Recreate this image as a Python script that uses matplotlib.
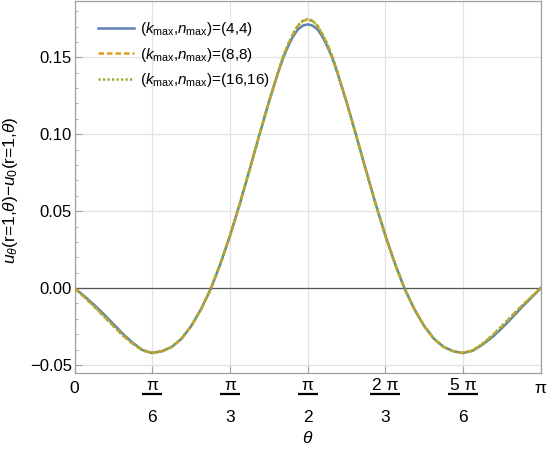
"""
u_theta(r=1, theta) - u_0(r=1, theta) para tres truncaciones (k_max, n_max).
"""
import numpy as np
import matplotlib.pyplot as plt

plt.rcParams['font.family'] = ['Liberation Sans', 'DejaVu Sans']
plt.rcParams['mathtext.fontset'] = 'custom'
plt.rcParams['mathtext.rm'] = 'Liberation Sans'
plt.rcParams['mathtext.it'] = 'Liberation Sans:italic'

# Datos (theta en grados, mas fino cerca del maximo)
theta_deg = [0, 3.75, 7.5, 11.25, 15, 18.75, 22.5, 26.25, 30, 33.75, 37.5,
             41.25, 45, 48.75, 52.5, 56.25, 60, 63.75, 67.5, 71.25, 75,
             78.75, 80.625, 82.5, 84.375, 86.25, 88.125, 90, 91.875, 93.75,
             95.625, 97.5, 99.375, 101.25,
             105, 108.75, 112.5, 116.25, 120, 123.75, 127.5, 131.25, 135,
             138.75, 142.5, 146.25, 150, 153.75, 157.5, 161.25, 165, 168.75,
             172.5, 176.25, 180]

u_4 = [0.0000, -0.0052, -0.0108, -0.0169, -0.0234, -0.0299, -0.0356, -0.0403,
       -0.0422, -0.0411, -0.0383, -0.0330, -0.0248, -0.0140, -0.0008, 0.0155,
       0.0340, 0.0545, 0.0765, 0.0990, 0.1208,
       0.1409, 0.1500, 0.1573, 0.1636, 0.1682, 0.1706, 0.1714, 0.1706, 0.1682,
       0.1636, 0.1573, 0.1500, 0.1409,
       0.1208, 0.0990, 0.0765, 0.0545, 0.0340, 0.0155, -0.0008, -0.0140,
       -0.0248, -0.0330, -0.0383, -0.0411, -0.0422, -0.0407, -0.0368, -0.0319,
       -0.0260, -0.0195, -0.0128, -0.0064, 0.0000]

u_8 = [0.0000, -0.0058, -0.0118, -0.0182, -0.0247, -0.0309, -0.0362, -0.0405,
       -0.0422, -0.0411, -0.0383, -0.0330, -0.0248, -0.0140, -0.0008, 0.0155,
       0.0340, 0.0545, 0.0765, 0.0990, 0.1210,
       0.1415, 0.1510, 0.1587, 0.1652, 0.1705, 0.1736, 0.1746, 0.1736, 0.1705,
       0.1652, 0.1587, 0.1510, 0.1415,
       0.1210, 0.0990, 0.0765, 0.0545, 0.0340, 0.0155, -0.0008, -0.0140,
       -0.0248, -0.0330, -0.0383, -0.0411, -0.0422, -0.0405, -0.0362, -0.0309,
       -0.0247, -0.0182, -0.0118, -0.0058, 0.0000]

u_16 = [0.0000, -0.0058, -0.0118, -0.0182, -0.0247, -0.0309, -0.0362, -0.0405,
        -0.0422, -0.0411, -0.0383, -0.0330, -0.0248, -0.0140, -0.0008, 0.0155,
        0.0340, 0.0545, 0.0765, 0.0990, 0.1210,
        0.1415, 0.1510, 0.1588, 0.1653, 0.1706, 0.1738, 0.1748, 0.1738, 0.1706,
        0.1653, 0.1588, 0.1510, 0.1415,
        0.1210, 0.0990, 0.0765, 0.0545, 0.0340, 0.0155, -0.0008, -0.0140,
        -0.0248, -0.0330, -0.0383, -0.0411, -0.0422, -0.0405, -0.0362, -0.0309,
        -0.0247, -0.0182, -0.0118, -0.0058, 0.0000]

etiquetas = [r'($k_{\mathrm{max}}$,$n_{\mathrm{max}}$)=(4,4)',
             r'($k_{\mathrm{max}}$,$n_{\mathrm{max}}$)=(8,8)',
             r'($k_{\mathrm{max}}$,$n_{\mathrm{max}}$)=(16,16)']
colores = ['#5E81B5', '#E19C24', '#8FB032']
estilos = ['-', (0, (2.2, 1.2)), (0, (0.9, 0.9))]

yticks = [-0.05, 0.0, 0.05, 0.10, 0.15]
ytick_labels = ['\u22120.05', '0.00', '0.05', '0.10', '0.15']
xtick_num = ['0', '\u03c0', '\u03c0', '\u03c0', '2 \u03c0', '5 \u03c0', '\u03c0']
xtick_den = [None, '6', '3', '2', '3', '6', None]

theta = np.deg2rad(theta_deg)

fig = plt.figure(figsize=(5.48, 4.49), dpi=100)
ax = fig.add_axes([0.136, 0.169, 0.851, 0.8295])

for serie, lab, col, ls, z in zip([u_4, u_8, u_16], etiquetas, colores, estilos, [2, 3, 4]):
    ax.plot(theta, serie, color=col, linestyle=ls, linewidth=1.8, label=lab, zorder=z,
            solid_joinstyle='round')

ax.axhline(0, color='#555555', linewidth=0.9, zorder=1.5)

ax.set_xlim(0, np.pi)
ax.set_ylim(-0.0553, 0.1868)

xticks = np.arange(7) * np.pi / 6
ax.set_xticks(xticks)
ax.set_xticklabels([''] * 7)
ax.set_yticks(yticks)
ax.set_yticklabels(ytick_labels, fontsize=12)
ax.yaxis.set_minor_locator(plt.MultipleLocator(0.01))
ax.tick_params(axis='both', which='major', direction='in', length=5, width=0.8,
               color='#a0a0a0', pad=2)
ax.tick_params(axis='y', which='minor', direction='in', length=2.5, width=0.6,
               color='#a0a0a0')
ax.grid(True, color='#e2e2e2', linewidth=0.9, zorder=0)
ax.set_axisbelow(True)
for s in ax.spines.values():
    s.set_color('#a0a0a0')
    s.set_linewidth(0.9)

# Etiquetas del eje x como fracciones apiladas
trans = ax.get_xaxis_transform()
for xv, num, den in zip(xticks, xtick_num, xtick_den):
    if den is None:
        ax.annotate(num, xy=(xv, 0), xycoords=trans, xytext=(0, -14.4),
                    textcoords='offset points', ha='center', va='baseline',
                    fontsize=12.5, annotation_clip=False)
        continue
    ax.annotate(num, xy=(xv, 0), xycoords=trans, xytext=(0, -12.0),
                textcoords='offset points', ha='center', va='baseline',
                fontsize=12.5, annotation_clip=False)
    ax.annotate(den, xy=(xv, 0), xycoords=trans, xytext=(0, -35.1),
                textcoords='offset points', ha='center', va='baseline',
                fontsize=12.5, annotation_clip=False)
    media = 0.0674 if len(num) == 1 else 0.101
    ax.plot([xv - media, xv + media], [-0.0569, -0.0569], color='black',
            linewidth=1.6, transform=trans, clip_on=False, solid_capstyle='butt')

ax.annotate(r'$\theta$', xy=(0.5, 0), xycoords='axes fraction', xytext=(0, -52.8),
            textcoords='offset points', ha='center', va='bottom', fontsize=12.5)

ax.set_ylabel(r'$u_\theta$(r=1,$\theta$)$-u_0$(r=1,$\theta$)', fontsize=12.5)
ax.yaxis.set_label_coords(-0.117, 0.49)

ax.legend(loc='upper left', bbox_to_anchor=(0.02, 0.985), frameon=False,
          fontsize=11, handlelength=2.4, handletextpad=0.4, labelspacing=0.5)

fig.savefig('out.png', dpi=100)
